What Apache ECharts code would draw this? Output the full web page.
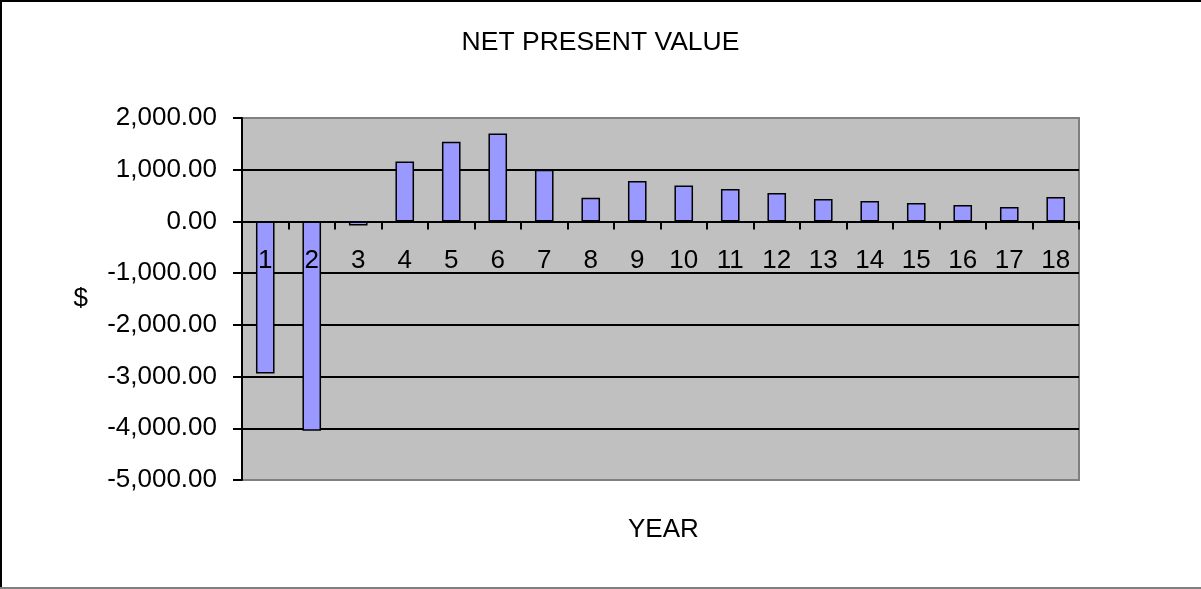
<!DOCTYPE html>
<html>
<head>
<meta charset="utf-8">
<style>
  html, body { margin: 0; padding: 0; background: #fff; }
  #chart { width: 1201px; height: 589px; }
</style>
<script src="https://cdn.jsdelivr.net/npm/echarts@6/dist/echarts.min.js"></script>
</head>
<body>
<div id="chart"></div>
<script>
// Net present value per year
const years = ['1','2','3','4','5','6','7','8','9','10','11','12','13','14','15','16','17','18'];
const npv = [-2940, -4050, -80, 1160, 1540, 1700, 1000, 460, 780, 695, 625, 548, 432, 394, 355, 317, 278, 471];

const FONT = 'Liberation Sans, Arial, sans-serif';
const GRID = { left: 242, right: 122, top: 118, bottom: 109 };

function money(v) {
  return v.toLocaleString('en-US', { minimumFractionDigits: 2, maximumFractionDigits: 2 });
}

const chart = echarts.init(document.getElementById('chart'), null, { renderer: 'canvas' });

chart.setOption({
  backgroundColor: '#ffffff',
  animation: false,
  title: [{
    text: 'NET PRESENT VALUE',
    left: 'center',
    top: 24,
    textStyle: { fontFamily: FONT, fontSize: 26.5, fontWeight: 'normal', color: '#000' }
  }, {
    text: 'YEAR',
    left: 623,
    top: 512,
    textStyle: { fontFamily: FONT, fontSize: 26, fontWeight: 'normal', color: '#000' }
  }],
  grid: Object.assign({
    containLabel: false,
    outerBoundsMode: 'none',
    show: true,
    backgroundColor: '#C0C0C0',
    borderColor: '#808080',
    borderWidth: 2
  }, GRID),
  xAxis: {
    type: 'category',
    data: years,
    z: 5,
    position: 'bottom',
    offset: 0,
    axisLine: { onZero: false, lineStyle: { color: '#000', width: 2 } },
    axisTick: { show: true, length: 8, alignWithLabel: false, lineStyle: { color: '#000', width: 2 } },
    axisLabel: { margin: 26, fontFamily: FONT, fontSize: 26, color: '#000', interval: 0 },
    splitLine: { show: false }
  },
  yAxis: {
    type: 'value',
    min: -5000,
    max: 2000,
    interval: 1000,
    name: '$',
    nameLocation: 'middle',
    nameRotate: 0,
    nameGap: 154,
    nameTextStyle: { fontFamily: FONT, fontSize: 26, color: '#000' },
    axisLine: { show: true, lineStyle: { color: '#000', width: 2 } },
    axisTick: { show: true, length: 9, lineStyle: { color: '#000', width: 2 } },
    axisLabel: { margin: 25, fontFamily: FONT, fontSize: 26, color: '#000', formatter: money },
    splitLine: { show: true, showMinLine: false, showMaxLine: false, lineStyle: { color: '#000', width: 2 } }
  },
  series: [{
    type: 'bar',
    data: npv,
    barWidth: '40%',
    itemStyle: { color: '#9999FF', borderColor: '#000', borderWidth: 1.5 }
  }],
  graphic: [
    { type: 'line', shape: { x1: 1, y1: 0, x2: 1, y2: 589 }, style: { stroke: '#000', lineWidth: 2 } },
    { type: 'line', shape: { x1: 0, y1: 1, x2: 1201, y2: 1 }, style: { stroke: '#000', lineWidth: 2 } },
    { type: 'line', shape: { x1: 0, y1: 588, x2: 1201, y2: 588 }, style: { stroke: '#808080', lineWidth: 2 } }
  ]
});

// Category axis sits on the zero value line, with its labels just below it
const zeroY = chart.convertToPixel({ yAxisIndex: 0 }, 0);
const gridBottomY = 589 - GRID.bottom;
chart.setOption({ xAxis: { offset: -(gridBottomY - zeroY) } });
</script>
</body>
</html>
